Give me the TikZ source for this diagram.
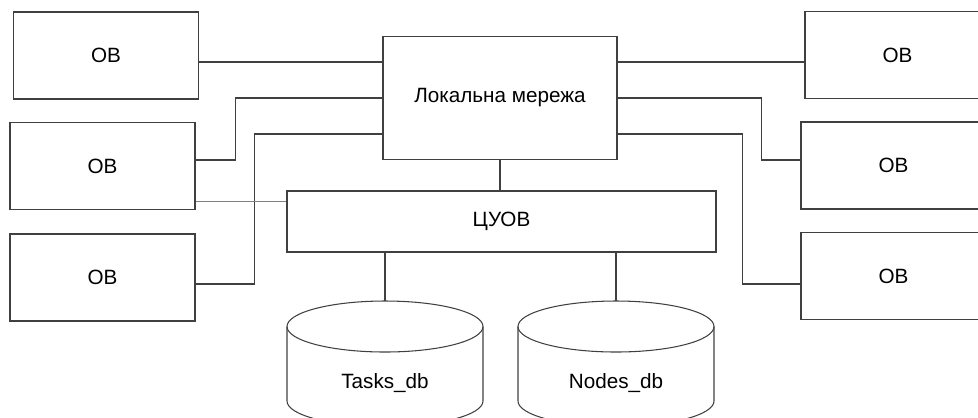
\documentclass[tikz,border=0pt]{standalone}
\usepackage{fontspec}
\setmainfont{Liberation Sans}
\usetikzlibrary{calc}
\begin{document}
\begin{tikzpicture}[x=0.025cm,y=-0.025cm,line width=0.75pt,
		every node/.style={font=\fontsize{14.7}{17}\selectfont},
		ob/.style={draw=black!75,minimum width=185*0.025cm,minimum height=87*0.025cm,inner sep=0pt},
		wire/.style={draw=black!75}]
		\useasboundingbox (0,0) rectangle (978,417);
		\clip (0,0) rectangle (978,417);
		\node[ob] (ob1) at (106,55.5) {ОВ};
		\node[ob] (ob2) at (102.5,166) {ОВ};
		\node[ob] (ob3) at (102.5,277.5) {ОВ};
		\node[ob] (ob4) at (897.5,55) {ОВ};
		\node[ob] (ob5) at (893.5,165.5) {ОВ};
		\node[ob] (ob6) at (893.5,276) {ОВ};
		\node[ob,minimum width=234*0.025cm,minimum height=123*0.025cm] (net) at (500,98) {Локальна мережа};
		\node[ob,minimum width=429*0.025cm,minimum height=61*0.025cm] (cuov) at (501.5,221.5) {ЦУОВ};
		\foreach \cx/\nm/\lbl in {385/tasks/Tasks\_db,616/nodes/Nodes\_db}{
			\draw[wire] (\cx,326.5) ellipse[x radius=98,y radius=25.5];
			\draw[wire] (\cx-98,326.5) -- (\cx-98,401) arc[start angle=180,end angle=0,x radius=98,y radius=25.5] -- (\cx+98,326.5);
			\node (\nm) at (\cx,383) {\lbl};
			\coordinate (\nm-top) at (\cx,301);
		}
		\draw[wire] (ob1.east |- 0,62) -- (net.west |- 0,62);
		\draw[wire] (ob2.east |- 0,160) -- ++(40,0) |- (net.west);
		\draw[wire] (ob3.east |- 0,284) -- ++(59,0) |- (net.west |- 0,134);
		\draw[thin,gray] (ob2.east |- 0,201) -- (cuov.west |- 0,201);
		\draw[wire] (net.east |- 0,62) -- (ob4.west |- 0,62);
		\draw[wire] (net.east) -- ++(144,0) |- (ob5.west |- 0,160);
		\draw[wire] (net.east |- 0,134) -- ++(125,0) |- (ob6.west |- 0,284);
		\draw[wire] (net.south) -- (net.south |- cuov.north);
		\draw[wire] (tasks-top) -- (tasks-top |- cuov.south);
		\draw[wire] (nodes-top) -- (nodes-top |- cuov.south);
	\end{tikzpicture}
\end{document}
